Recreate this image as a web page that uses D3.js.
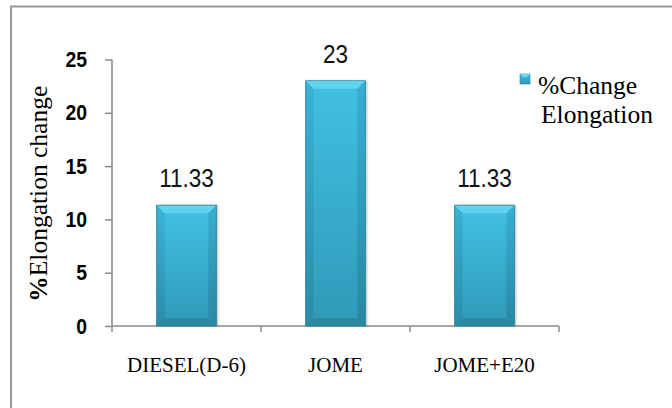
<!DOCTYPE html>
<html>
<head>
<meta charset="utf-8">
<script src="https://cdn.jsdelivr.net/npm/d3@7"></script>
<style>
  html, body { margin: 0; padding: 0; background: #fff; }
  svg { display: block; }
</style>
</head>
<body>
<svg id="elongChart"></svg>
<script>
// data
let categories = ['DIESEL(D-6)', 'JOME', 'JOME+E20'];
let values = [11.33, 23, 11.33];
let valueLabels = ['11.33', '23', '11.33'];
let yTicks = [0, 5, 10, 15, 20, 25];
let seriesName = ['%Change', 'Elongation'];

//config
function getChartConfig(){
    let width = 672;
    let height = 408;
    let margin = { top: 59.5, bottom: 82, left: 112, right: 113 }
    let bodyHeight = height - margin.top - margin.bottom
    let bodyWidth = width - margin.left - margin.right
    let container = d3.select('#elongChart')
        .attr('width', width)
        .attr('height', height)
    return { width, height, margin, bodyHeight, bodyWidth, container }
}

//scales
function getChartScales(config){
    let {margin, bodyWidth, bodyHeight} = config;
    let xScale = d3.scaleBand()
        .domain(categories)
        .range([margin.left, margin.left + bodyWidth])
        .padding(0)
    let yScale = d3.scaleLinear()
        .domain([0, 25])
        .range([margin.top + bodyHeight, margin.top])
    return {xScale, yScale};
}

function addDefs(container){
    let defs = container.append('defs');
    let body = defs.append('linearGradient').attr('id', 'barBody')
        .attr('x1', 0).attr('y1', 0).attr('x2', 0).attr('y2', 1);
    body.append('stop').attr('offset', '0%').attr('stop-color', '#41c0e3');
    body.append('stop').attr('offset', '100%').attr('stop-color', '#3099b8');
    let side = defs.append('linearGradient').attr('id', 'barSide')
        .attr('x1', 0).attr('y1', 0).attr('x2', 0).attr('y2', 1);
    side.append('stop').attr('offset', '0%').attr('stop-color', '#37adcf');
    side.append('stop').attr('offset', '100%').attr('stop-color', '#2886a1');
    let shadow = defs.append('filter').attr('id', 'barShadow')
        .attr('x', '-20%').attr('y', '-5%').attr('width', '140%').attr('height', '110%');
    shadow.append('feDropShadow').attr('dx', 1.5).attr('dy', 0).attr('stdDeviation', 1.2)
        .attr('flood-color', '#000').attr('flood-opacity', 0.3);
}

//axes
function drawAxes(scales, config){
    let {xScale, yScale} = scales;
    let {container, margin} = config;
    let axisColor = '#8a8a8a';
    let y0 = yScale(0);

    // outer frame (only left and top edges are inside the picture)
    container.append('rect')
        .attr('x', 11).attr('y', 6.5)
        .attr('width', 700).attr('height', 440)
        .attr('fill', 'none').attr('stroke', '#999').attr('stroke-width', 2)

    let axisY = d3.axisLeft(yScale)
        .tickValues(yTicks)
        .tickSize(7)
        .tickPadding(18)
    let gy = container.append('g')
        .attr('transform', `translate(${margin.left},0)`)
        .call(axisY)
    gy.select('.domain').remove();
    gy.append('line')
        .attr('x1', 0).attr('x2', 0)
        .attr('y1', yScale(25)).attr('y2', y0 + 1)
        .attr('stroke', axisColor).attr('stroke-width', 1.6)
    gy.selectAll('.tick line').attr('stroke', axisColor).attr('stroke-width', 1.5)
    gy.selectAll('.tick text')
        .attr('fill', '#000')
        .attr('x', -25 / 0.88)
        .attr('transform', 'scale(0.88,1)')
        .style('font-family', '"Liberation Sans", Arial, sans-serif')
        .style('font-weight', 'bold')
        .style('font-size', '22px')

    // x axis: ticks at the band boundaries
    let gx = container.append('g')
    gx.append('line')
        .attr('x1', xScale.range()[0]).attr('x2', xScale.range()[1])
        .attr('y1', y0).attr('y2', y0)
        .attr('stroke', axisColor).attr('stroke-width', 1.6)
    let bounds = categories.map(c => xScale(c)).concat([xScale.range()[1]]);
    gx.selectAll('.xtick')
        .data(bounds)
        .enter().append('line')
        .attr('x1', d => d).attr('x2', d => d)
        .attr('y1', y0).attr('y2', y0 + 6)
        .attr('stroke', axisColor).attr('stroke-width', 1.5)
    gx.selectAll('.xlabel')
        .data(categories)
        .enter().append('text')
        .attr('x', d => xScale(d) + xScale.bandwidth() / 2)
        .attr('y', y0 + 46)
        .attr('text-anchor', 'middle')
        .style('font-family', '"Liberation Serif", "Times New Roman", serif')
        .style('font-size', '21px')
        .text(d => d)

    // y axis title
    container.append('text')
        .attr('transform', `translate(47,${(yScale(25) + y0) / 2 + 1}) rotate(-90)`)
        .attr('text-anchor', 'middle')
        .style('font-family', '"Liberation Serif", "Times New Roman", serif')
        .style('font-size', '25.5px')
        .html('<tspan font-weight="bold">%</tspan>Elongation change')
}

//bars
function drawBars(scales, config){
    let {xScale, yScale} = scales;
    let {container} = config;
    let barW = xScale.bandwidth() * 0.4;
    let bev = 8;
    let y0 = yScale(0);

    let bars = container.selectAll('.bar')
        .data(values)
        .enter().append('g')
        .attr('class', 'bar')
        .attr('transform', (d, i) => `translate(${xScale(categories[i]) + (xScale.bandwidth() - barW) / 2},0)`)

    bars.append('rect')
        .attr('x', 0).attr('width', barW)
        .attr('y', d => yScale(d)).attr('height', d => y0 - yScale(d))
        .attr('fill', 'url(#barBody)')
        .attr('filter', 'url(#barShadow)')
    // darker side strips
    bars.append('polygon')
        .attr('points', d => `0,${yScale(d)} ${bev},${yScale(d) + bev} ${bev},${y0 - bev} 0,${y0}`)
        .attr('fill', 'url(#barSide)').attr('opacity', 0.7)
    bars.append('polygon')
        .attr('points', d => `${barW},${yScale(d)} ${barW - bev},${yScale(d) + bev} ${barW - bev},${y0 - bev} ${barW},${y0}`)
        .attr('fill', 'url(#barSide)').attr('opacity', 0.9)
    // light top bevel
    bars.append('polygon')
        .attr('points', d => `0,${yScale(d)} ${barW},${yScale(d)} ${barW - bev},${yScale(d) + bev} ${bev},${yScale(d) + bev}`)
        .attr('fill', '#5fd3ef')
    bars.append('line')
        .attr('x1', 0).attr('x2', barW)
        .attr('y1', d => yScale(d) + 0.5).attr('y2', d => yScale(d) + 0.5)
        .attr('stroke', '#8ae8fa').attr('stroke-width', 1)
    // darker bottom bevel
    bars.append('polygon')
        .attr('points', `0,${y0} ${barW},${y0} ${barW - bev},${y0 - bev} ${bev},${y0 - bev}`)
        .attr('fill', '#2b8aa2')
    bars.append('rect')
        .attr('x', 0).attr('width', barW)
        .attr('y', d => yScale(d)).attr('height', d => y0 - yScale(d))
        .attr('fill', 'none').attr('stroke', '#277d95').attr('stroke-width', 0.8)

    // value labels (slightly condensed like the original)
    container.selectAll('.vlabel')
        .data(values)
        .enter().append('text')
        .attr('transform', (d, i) => `translate(${xScale(categories[i]) + xScale.bandwidth() / 2},${yScale(d) - 18}) scale(0.9,1)`)
        .attr('text-anchor', 'middle')
        .style('font-family', '"Liberation Sans", Arial, sans-serif')
        .style('font-size', '25px')
        .attr('fill', '#111')
        .text((d, i) => valueLabels[i])
}

//legend
function drawLegend(config){
    let {container} = config;
    let lg = container.append('g').attr('transform', 'translate(520,74)');
    lg.append('rect').attr('width', 10).attr('height', 10).attr('fill', 'url(#barBody)')
        .attr('stroke', '#277d95').attr('stroke-width', 0.6)
    lg.append('polygon').attr('points', '0,0 10,0 7,3 3,3').attr('fill', '#6fdaf2')
    lg.selectAll('text')
        .data(seriesName)
        .enter().append('text')
        .attr('x', (d, i) => i === 0 ? 18 : 21)
        .attr('y', (d, i) => 20 + i * 29)
        .style('font-family', '"Liberation Serif", "Times New Roman", serif')
        .style('font-size', '25.5px')
        .text(d => d)
}

function drawChart(){
    let config = getChartConfig();
    let scales = getChartScales(config);
    addDefs(config.container);
    drawAxes(scales, config);
    drawBars(scales, config);
    drawLegend(config);
}
drawChart();
</script>
</body>
</html>
